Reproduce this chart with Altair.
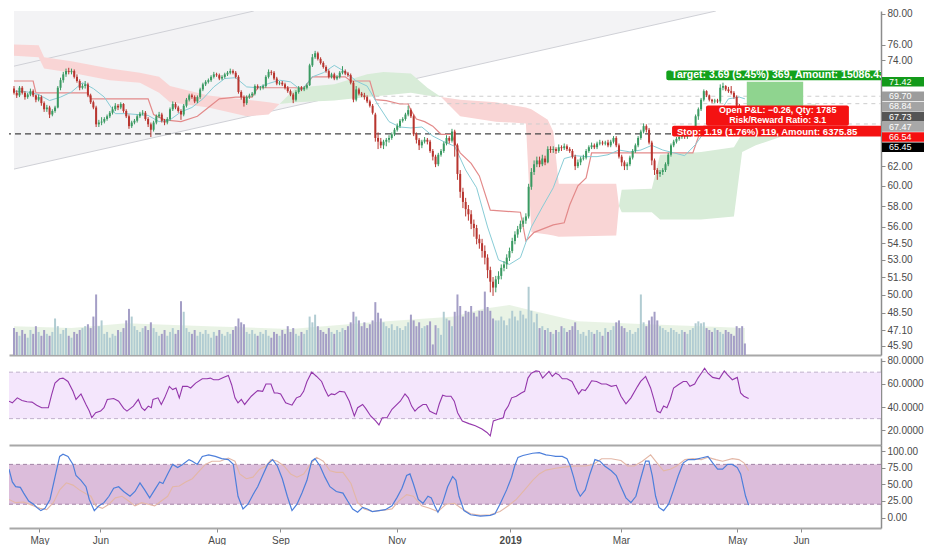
import math
import altair as alt
import pandas as pd

# ------------------------------------------------------------------ data
FIRST_INDEX = -11   # candle index of the first bar (index 0 = 1 May 2018)

opens = [
    70.6, 70.1, 69.8, 70.7, 70.1, 69.6, 69.9, 70.3, 69.8, 69.3, 69.6,
    68.9, 68.2, 68.4, 67.6, 68.0, 68.4, 70.7, 71.6, 72.3, 72.7,
    72.6, 72.7, 72.0, 71.5, 70.7, 70.9, 71.1, 69.8, 69.0, 68.4,
    66.5, 66.7, 66.8, 67.1, 67.4, 67.8, 68.2, 68.6, 68.4, 68.8,
    68.0, 67.4, 66.3, 66.7, 66.9, 67.4, 67.7, 67.8, 67.1, 66.5,
    65.9, 66.7, 67.4, 67.6, 66.9, 66.7, 67.1, 68.2, 68.8, 68.4,
    68.0, 67.6, 68.6, 69.3, 69.8, 69.6, 69.1, 69.6, 70.5, 71.1,
    71.4, 71.6, 72.0, 72.3, 72.2, 71.8, 72.0, 72.3, 72.5, 72.7,
    72.5, 72.0, 70.2, 69.6, 68.9, 69.6, 69.8, 70.0, 70.9, 70.7,
    70.7, 70.9, 72.0, 72.6, 72.5, 71.8, 71.2, 71.3, 71.1, 70.7,
    70.3, 69.9, 69.3, 70.2, 70.7, 70.5, 70.7, 71.0, 73.4, 74.4,
    74.9, 74.2, 73.7, 73.2, 72.7, 72.0, 72.3, 71.8, 72.0, 72.5,
    72.7, 72.4, 72.2, 71.3, 69.3, 70.5, 70.0, 69.8, 69.6, 69.1,
    68.6, 67.6, 65.0, 64.6, 64.2, 64.6, 64.8, 65.0, 65.4, 65.9,
    66.3, 66.9, 67.1, 67.6, 68.1, 67.4, 65.4, 64.8, 64.2, 64.6,
    64.8, 64.6, 63.6, 63.0, 62.2, 63.2, 63.6, 64.4, 65.0, 64.7,
    65.7, 64.2, 61.2, 59.4, 58.4, 57.7, 57.2, 56.3, 55.9, 54.9,
    54.5, 53.8, 53.2, 52.1, 51.1, 50.6, 51.3, 51.6, 52.3, 52.6,
    53.2, 53.8, 54.7, 55.3, 55.8, 56.3, 56.6, 57.0, 59.9, 61.4,
    62.2, 62.6, 62.2, 62.8, 62.4, 63.8, 63.7, 63.8, 63.6, 64.0,
    63.9, 64.1, 63.8, 63.6, 63.0, 62.0, 62.4, 62.8, 62.9, 63.6,
    64.0, 64.2, 64.0, 64.4, 64.5, 64.4, 64.5, 64.2, 64.6, 65.0,
    64.2, 63.0, 62.4, 62.0, 62.2, 62.9, 63.6, 64.2, 65.0, 65.7,
    66.3, 65.9, 64.5, 62.6, 61.6, 61.2, 61.4, 61.6, 62.2, 63.2,
    64.2, 64.6, 64.9, 65.1, 65.2, 65.1, 65.3, 65.4, 65.8, 67.4,
    68.2, 69.3, 70.3, 69.8, 69.3, 69.1, 69.2, 69.1, 70.7, 70.9,
    70.5, 70.3, 70.1, 69.6, 68.6, 68.3, 67.9,
]
highs = [
    70.9, 70.4, 70.9, 70.9, 70.3, 70.1, 70.6, 70.5, 69.9, 69.9, 69.8,
    69.1, 68.7, 68.6, 68.2, 68.6, 70.9, 71.9, 72.6, 73.0, 73.1,
    73.0, 72.9, 72.3, 71.7, 71.2, 71.5, 71.3, 70.0, 69.2, 68.6,
    67.0, 67.3, 67.3, 67.6, 68.0, 68.5, 68.9, 68.8, 69.0, 68.9,
    68.2, 67.6, 66.9, 67.1, 67.6, 67.9, 68.1, 68.0, 67.3, 66.7,
    66.9, 67.6, 67.9, 67.8, 67.1, 67.3, 68.4, 69.1, 69.0, 68.6,
    68.2, 68.8, 69.5, 70.0, 70.0, 69.8, 69.8, 70.7, 71.3, 71.6,
    71.8, 72.2, 72.6, 72.5, 72.4, 72.2, 72.5, 72.7, 73.0, 72.9,
    72.7, 72.2, 70.4, 69.8, 69.8, 70.0, 70.2, 71.1, 71.1, 70.9,
    71.1, 72.2, 72.9, 72.8, 72.7, 72.0, 71.5, 71.5, 71.3, 70.9,
    70.5, 70.1, 70.4, 70.9, 70.9, 70.9, 71.2, 73.6, 74.8, 75.2,
    75.1, 74.4, 73.9, 73.4, 72.9, 72.5, 72.5, 72.2, 72.7, 73.3,
    72.9, 72.6, 72.4, 71.5, 70.9, 70.7, 70.2, 70.1, 69.8, 69.3,
    68.8, 67.8, 65.6, 65.0, 64.8, 65.0, 65.3, 65.6, 66.1, 66.6,
    67.1, 67.3, 67.8, 68.6, 68.3, 67.6, 65.6, 65.0, 64.8, 65.1,
    65.0, 64.8, 63.8, 63.2, 63.4, 63.8, 64.6, 65.3, 65.2, 66.0,
    65.9, 64.4, 61.6, 59.8, 58.8, 58.1, 57.6, 56.7, 56.2, 55.3,
    54.9, 54.3, 53.5, 52.4, 51.5, 51.6, 52.0, 52.6, 52.9, 53.5,
    54.1, 55.0, 55.6, 56.1, 56.6, 56.9, 57.3, 60.2, 61.8, 62.6,
    63.0, 63.0, 63.2, 63.1, 64.1, 64.1, 64.1, 64.0, 64.3, 64.2,
    64.4, 64.3, 64.0, 63.8, 63.2, 62.7, 63.0, 63.2, 63.8, 64.2,
    64.5, 64.4, 64.6, 64.8, 64.7, 64.7, 64.8, 64.8, 65.2, 65.2,
    64.4, 63.2, 62.6, 62.4, 63.1, 63.8, 64.4, 65.2, 65.9, 66.6,
    66.5, 66.1, 64.7, 62.8, 61.8, 61.6, 61.8, 62.4, 63.4, 64.4,
    64.8, 65.1, 65.3, 65.4, 65.4, 65.5, 65.6, 66.0, 67.6, 68.4,
    69.5, 70.5, 70.4, 69.9, 69.4, 69.4, 69.4, 71.1, 71.3, 71.0,
    70.8, 70.9, 70.3, 69.8, 68.8, 68.5, 68.1,
]
lows = [
    69.9, 69.5, 69.6, 69.9, 69.3, 69.4, 69.7, 69.6, 69.0, 69.1, 68.6,
    67.9, 67.9, 67.2, 67.4, 67.8, 68.3, 70.4, 71.3, 72.0, 72.3,
    72.3, 71.8, 71.3, 70.4, 70.5, 70.6, 69.6, 68.8, 68.2, 66.2,
    66.2, 66.4, 66.6, 66.9, 67.2, 67.6, 68.0, 68.1, 68.2, 67.8,
    67.2, 66.0, 66.1, 66.5, 66.7, 67.2, 67.5, 66.9, 66.2, 65.1,
    65.7, 66.5, 67.2, 66.7, 66.4, 66.5, 66.9, 68.0, 68.2, 67.8,
    67.0, 67.4, 68.4, 69.1, 69.4, 68.9, 68.9, 69.4, 70.3, 70.9,
    71.2, 71.4, 71.8, 72.0, 71.6, 71.6, 71.8, 72.1, 72.3, 72.3,
    71.8, 70.0, 69.3, 68.5, 68.7, 69.4, 69.6, 69.8, 70.5, 70.4,
    70.5, 70.7, 71.8, 72.2, 71.6, 71.0, 71.0, 70.9, 70.5, 70.1,
    69.7, 68.9, 69.1, 70.0, 70.3, 70.3, 70.5, 70.9, 73.2, 74.2,
    74.0, 73.5, 73.0, 72.5, 71.8, 71.8, 71.6, 71.6, 71.8, 72.3,
    72.2, 72.0, 71.1, 69.0, 69.1, 69.8, 69.6, 69.3, 68.9, 68.4,
    67.6, 64.6, 63.8, 63.9, 63.8, 64.1, 64.5, 64.8, 65.2, 65.7,
    66.1, 66.7, 66.9, 67.4, 67.2, 65.2, 64.4, 63.7, 63.9, 64.4,
    64.3, 63.4, 62.6, 61.9, 62.0, 63.0, 63.4, 64.2, 64.4, 64.5,
    63.0, 60.6, 58.8, 57.8, 57.0, 56.6, 55.8, 55.1, 54.4, 54.0,
    53.2, 52.6, 51.4, 50.2, 49.9, 50.2, 50.9, 51.3, 52.0, 52.2,
    52.9, 53.6, 54.4, 55.0, 55.5, 56.0, 56.3, 56.8, 59.6, 61.1,
    61.9, 61.9, 62.0, 62.1, 62.3, 63.4, 63.4, 63.3, 63.4, 63.6,
    63.7, 63.6, 63.4, 62.8, 61.6, 61.8, 62.1, 62.6, 62.7, 63.4,
    63.8, 63.8, 63.8, 64.2, 64.2, 64.2, 64.0, 64.0, 64.4, 64.0,
    62.8, 62.0, 61.6, 61.6, 62.0, 62.7, 63.4, 64.0, 64.8, 65.5,
    65.6, 64.3, 62.1, 61.1, 60.6, 60.9, 61.1, 61.4, 62.0, 63.0,
    64.0, 64.4, 64.7, 64.9, 64.9, 64.9, 65.1, 65.2, 65.6, 67.0,
    68.0, 69.1, 69.6, 69.1, 68.9, 68.9, 68.9, 68.9, 70.4, 70.3,
    70.1, 69.9, 69.4, 68.4, 68.0, 67.6, 67.5,
]
closes = [
    70.1, 69.8, 70.7, 70.1, 69.6, 69.9, 70.3, 69.8, 69.3, 69.6, 68.9,
    68.2, 68.4, 67.6, 68.0, 68.4, 70.7, 71.6, 72.3, 72.7, 72.6,
    72.7, 72.0, 71.5, 70.7, 70.9, 71.1, 69.8, 69.0, 68.4, 66.5,
    66.7, 66.8, 67.1, 67.4, 67.8, 68.2, 68.6, 68.4, 68.8, 68.0,
    67.4, 66.3, 66.7, 66.9, 67.4, 67.7, 67.8, 67.1, 66.5, 65.9,
    66.7, 67.4, 67.6, 66.9, 66.7, 67.1, 68.2, 68.8, 68.4, 68.0,
    67.6, 68.6, 69.3, 69.8, 69.6, 69.1, 69.6, 70.5, 71.1, 71.4,
    71.6, 72.0, 72.3, 72.2, 71.8, 72.0, 72.3, 72.5, 72.7, 72.5,
    72.0, 70.2, 69.6, 68.9, 69.6, 69.8, 70.0, 70.9, 70.7, 70.7,
    70.9, 72.0, 72.6, 72.5, 71.8, 71.2, 71.3, 71.1, 70.7, 70.3,
    69.9, 69.3, 70.2, 70.7, 70.5, 70.7, 71.0, 73.4, 74.4, 74.9,
    74.2, 73.7, 73.2, 72.7, 72.0, 72.3, 71.8, 72.0, 72.5, 72.7,
    72.4, 72.2, 71.3, 69.3, 70.5, 70.0, 69.8, 69.6, 69.1, 68.6,
    67.8, 65.0, 64.6, 64.2, 64.6, 64.8, 65.0, 65.4, 65.9, 66.3,
    66.9, 67.1, 67.6, 68.1, 67.4, 65.4, 64.8, 64.2, 64.6, 64.8,
    64.6, 63.6, 63.0, 62.2, 63.2, 63.6, 64.4, 65.0, 64.7, 65.7,
    64.2, 61.2, 59.4, 58.4, 57.7, 57.2, 56.3, 55.9, 54.9, 54.5,
    53.8, 53.2, 52.1, 51.1, 50.6, 51.3, 51.6, 52.3, 52.6, 53.2,
    53.8, 54.7, 55.3, 55.8, 56.3, 56.6, 57.0, 59.9, 61.4, 62.2,
    62.6, 62.2, 62.8, 62.4, 63.8, 63.7, 63.8, 63.6, 64.0, 63.9,
    64.1, 63.8, 63.6, 63.0, 62.0, 62.4, 62.8, 62.9, 63.6, 64.0,
    64.2, 64.0, 64.4, 64.5, 64.4, 64.5, 64.2, 64.6, 65.0, 64.2,
    63.0, 62.4, 62.0, 62.2, 62.9, 63.6, 64.2, 65.0, 65.7, 66.3,
    65.9, 64.5, 62.6, 61.6, 61.2, 61.4, 61.6, 62.2, 63.2, 64.2,
    64.6, 64.9, 65.1, 65.2, 65.1, 65.3, 65.4, 65.8, 67.4, 68.2,
    69.3, 70.3, 69.8, 69.3, 69.1, 69.2, 69.1, 70.7, 70.9, 70.5,
    70.3, 70.1, 69.6, 68.6, 68.3, 67.9, 67.73,
]
volume = [
    28, 24, 20, 26, 22, 18, 26, 22, 30, 24, 20,
    26, 22, 20, 24, 38, 30, 22, 26, 28, 20,
    18, 24, 22, 26, 28, 30, 32, 28, 40, 63,
    30, 36, 22, 24, 18, 22, 20, 26, 24, 28,
    36, 48, 40, 30, 26, 24, 28, 30, 26, 34,
    28, 24, 20, 22, 26, 20, 24, 28, 22, 26,
    56, 45, 28, 24, 22, 26, 20, 24, 22, 26,
    22, 18, 24, 20, 26, 22, 20, 24, 22, 26,
    30, 38, 34, 32, 24, 22, 26, 22, 20, 24,
    22, 26, 20, 18, 24, 22, 20, 26, 22, 30,
    24, 28, 22, 20, 24, 22, 26, 40, 34, 42,
    30, 26, 24, 22, 28, 24, 22, 26, 24, 28,
    26, 30, 34, 45, 40, 36, 30, 34, 28, 32,
    36, 55, 44, 38, 34, 30, 28, 32, 26, 30,
    28, 26, 30, 34, 42, 36, 30, 34, 28, 30,
    31, 35, 11, 31, 28, 21, 45, 38, 36, 30,
    45, 63, 51, 40, 46, 45, 51, 44, 40, 46,
    46, 66, 50, 46, 38, 36, 36, 40, 36, 31,
    38, 46, 40, 36, 46, 42, 38, 71, 46, 34,
    43, 28, 30, 26, 28, 24, 22, 26, 24, 30,
    28, 24, 26, 30, 34, 26, 22, 24, 20, 26,
    24, 22, 26, 24, 20, 28, 24, 26, 30, 34,
    36, 30, 28, 24, 26, 22, 24, 28, 63, 34,
    30, 36, 40, 45, 36, 30, 28, 26, 24, 28,
    26, 24, 22, 26, 24, 22, 26, 28, 33, 35,
    33, 34, 28, 26, 24, 28, 26, 24, 22, 26,
    24, 22, 20, 30, 28, 30, 12,
]
volume_ma = [(-11, 30), (10, 28), (30, 33), (60, 30), (90, 27), (120, 34), (150, 40),
             (160, 48), (170, 52), (180, 45), (195, 35), (220, 32), (240, 30), (256, 28)]

# Ichimoku cloud (index, span A, span B)
cloud_idx = [-11, -2, 0, 10, 24, 35, 42, 46, 60, 74, 82, 86, 92, 106, 118, 124, 134, 140,
             145, 152, 165, 176, 178, 184, 186, 188, 209, 210, 211, 222, 225, 240, 252, 255,
             260, 270, 282]
span_a = [74.6, 74.4, 73.0, 72.5, 71.6, 71.3, 70.1, 69.0, 68.4, 67.4, 67.6, 68.8, 70.7, 71.1,
          72.3, 72.6, 72.4, 70.7, 69.6, 67.4, 66.8, 66.6, 55.5, 55.3, 55.2, 55.1, 55.2, 58.0,
          59.6, 59.7, 63.2, 63.5, 64.0, 65.5, 67.4, 68.6, 68.8]
span_b = [76.0, 75.9, 74.4, 73.9, 73.0, 72.5, 72.0, 70.9, 69.8, 69.3, 69.0, 68.8, 69.0, 69.2,
          69.6, 69.8, 70.1, 69.8, 69.6, 69.3, 69.0, 68.4, 68.2, 67.0, 65.7, 60.2, 60.2, 58.0,
          57.4, 57.4, 56.7, 56.7, 57.0, 63.5, 64.2, 65.2, 68.4]

tenkan = [(-11, 70.3), (-6, 70.2), (-2, 69.9), (2, 69.2), (6, 69.6), (10, 70.2), (14, 71.3),
          (18, 70.6), (22, 69.6), (26, 67.7), (30, 67.7), (34, 67.6), (38, 67.5), (42, 66.8),
          (46, 67.0), (50, 67.9), (54, 68.4), (58, 69.4), (62, 70.8), (66, 71.8), (70, 71.9),
          (74, 70.8), (78, 70.7), (82, 71.2), (86, 71.6), (90, 71.4), (94, 70.4), (98, 72.0),
          (102, 72.5), (106, 73.4), (110, 72.6), (114, 71.5), (118, 70.9), (122, 68.7),
          (126, 66.8), (130, 66.2), (134, 66.1), (138, 66.2), (142, 65.2), (146, 64.6),
          (150, 64.1), (154, 61.6), (158, 59.8), (162, 56.0), (166, 53.0), (170, 52.6),
          (174, 53.2), (178, 56.0), (182, 57.9), (186, 59.8), (190, 62.8), (194, 63.1),
          (198, 63.0), (202, 63.0), (206, 63.2), (210, 63.7), (214, 63.5), (218, 63.7),
          (222, 64.2), (226, 63.7), (230, 63.4), (234, 63.1), (238, 64.3), (242, 66.0),
          (246, 67.5), (250, 69.4), (254, 69.6), (256, 69.4)]
kijun = [(-11, 71.5), (-4, 71.5), (-3, 70.1), (16, 70.1), (17, 69.4), (38, 69.4), (40, 67.6),
         (44, 67.0), (50, 66.8), (56, 67.4), (60, 68.4), (64, 69.4), (70, 69.6), (76, 69.6),
         (78, 70.7), (95, 70.7), (98, 72.0), (110, 72.0), (112, 71.5), (119, 71.5), (121, 69.3),
         (125, 69.2), (130, 68.8), (133, 68.8), (134, 68.1), (136, 67.1), (139, 66.8),
         (142, 66.3), (145, 65.4), (149, 65.4), (150, 64.5), (152, 63.4), (156, 62.3),
         (159, 61.0), (163, 57.6), (174, 57.4), (176, 54.7), (179, 55.5), (186, 56.2),
         (190, 56.4), (192, 58.1), (195, 60.0), (198, 60.8), (200, 63.4), (237, 63.4),
         (239, 65.1), (241, 66.3), (256, 66.3)]

# trend channel (index, price) end points
channel_upper = [(-11, 73.3), (76.6, 80.39)]
channel_lower = [(-11, 61.7), (245.4, 80.39)]

rsi = [(-11.0, 45), (-9.8, 43.6), (-8.0, 47.9), (-6.3, 45.6), (-4.5, 44.5), (-2.7, 44.2),
       (-1.0, 41.6), (0.8, 39.4), (3.2, 39.4), (4.4, 50.7), (5.6, 60.6), (7.3, 64.3),
       (8.5, 64.9), (10.3, 62), (12.1, 53.5), (13.2, 46.5), (15.0, 51.3), (16.8, 42.2),
       (18.0, 36.5), (18.9, 30.8), (20.3, 35.1), (22.1, 36.5), (23.3, 39.4), (24.5, 46.5),
       (26.8, 47.3), (28.6, 45), (30.4, 38.8), (31.6, 36.5), (33.9, 40.8), (35.7, 46.5),
       (36.9, 39.4), (38.0, 37.1), (39.3, 40.8), (40.4, 39.4), (41.0, 46.5), (42.8, 47.9),
       (44.0, 42.2), (45.2, 47.9), (46.9, 57.8), (48.1, 55), (49.3, 56.4), (50.5, 47.9),
       (51.7, 57.8), (53.4, 57.8), (54.6, 56.4), (56.4, 60.6), (58.8, 64.3), (60.5, 64.3),
       (61.7, 64.9), (62.9, 63.5), (64.7, 63.5), (66.4, 65.5), (68.2, 67.2), (69.4, 59.2),
       (70.6, 47.9), (71.7, 43.6), (72.9, 46.5), (74.1, 42.2), (76.5, 49.3), (78.8, 54.1),
       (80.6, 53.5), (81.8, 59.8), (83.6, 59.8), (84.8, 52.1), (85.9, 52.1), (87.1, 51.3),
       (88.9, 43.6), (91.2, 41.6), (92.8, 47.9), (94.2, 49.3), (95.4, 53.5), (96.6, 62),
       (98.3, 70), (100.1, 66.3), (101.9, 62), (103.1, 55), (104.3, 49.3), (105.4, 51.3),
       (106.6, 50.7), (108.4, 53.5), (110.2, 53), (111.9, 45), (113.7, 32.3), (114.9, 39.4),
       (116.7, 42.2), (117.8, 38.8), (119.6, 32.3), (121.4, 28), (122.6, 24.6), (123.8, 30.8),
       (125.5, 30.8), (127.3, 38), (130.3, 45), (132.0, 51.3), (133.2, 47.9), (134.4, 40.8),
       (135.6, 36.5), (136.8, 39.4), (138.5, 42.2), (139.7, 42.2), (140.9, 36.5),
       (142.1, 35.1), (143.3, 33.7), (144.4, 42.8), (145.6, 50.1), (146.8, 49.3),
       (148.6, 49.3), (149.8, 45), (151.0, 35.1), (152.7, 28), (155.1, 25.7), (157.4, 23.8),
       (159.8, 21), (161.6, 18.1), (162.8, 15.2), (163.9, 28), (165.7, 29.5), (167.5, 30.8),
       (168.1, 36.5), (169.3, 40.8), (170.5, 47.9), (172.2, 49.3), (174.0, 52.1),
       (175.2, 53.5), (176.4, 64.9), (177.6, 69.1), (179.3, 71.1), (180.5, 70.6),
       (181.7, 64.9), (183.4, 69.1), (184.0, 70.6), (185.2, 66.3), (186.4, 69.1),
       (187.6, 67.7), (188.8, 64.3), (190.5, 64.3), (192.3, 62), (193.5, 56.4), (194.7, 51.3),
       (195.9, 55), (197.1, 54.1), (198.2, 57.8), (199.4, 62.6), (201.2, 62), (203.0, 59.8),
       (204.7, 59.8), (206.5, 57.8), (208.3, 58.7), (210.0, 49.3), (211.8, 42.8),
       (213.6, 47.9), (216.0, 57.8), (217.1, 62), (218.9, 66.3), (220.7, 56.4), (221.9, 46.5),
       (223.0, 36.5), (224.2, 35.1), (225.4, 40.8), (226.6, 39.4), (227.8, 46.5),
       (229.0, 56.4), (230.7, 59.2), (232.5, 62), (233.7, 62), (234.9, 57.8), (236.6, 59.8),
       (237.8, 64.9), (239.0, 69.1), (240.2, 73.4), (241.4, 69.1), (243.1, 65.5),
       (245.5, 64.3), (247.3, 71.1), (248.5, 67.7), (250.2, 63.5), (252.0, 65.5),
       (253.2, 52.1), (254.4, 49.3), (256.1, 47.3)]

stoch_k = [(-11, 72.8), (-9.8, 53.6), (-8.6, 46.4), (-6.9, 45.4), (-5.7, 36.8), (-3.9, 24.8),
           (-2.1, 20), (-1.0, 15.2), (0.5, 10.4), (2.0, 13.8), (3.8, 27.2), (5.6, 60.8),
           (7.3, 92), (8.5, 95.4), (10.3, 92), (12.1, 80), (13.2, 63.2), (15.0, 56), (16.8, 46.4),
           (18.0, 27.2), (19.8, 10.4), (21.5, 17.6), (23.3, 22.4), (25.1, 32), (26.8, 44),
           (28.6, 46.4), (30.4, 39.2), (32.7, 32), (34.5, 39.2), (36.3, 52.2), (38.0, 41.6),
           (39.8, 29.6), (41.6, 41.6), (43.4, 53.6), (44.6, 51.2), (46.3, 65.6), (48.1, 80),
           (49.9, 75.2), (51.7, 80), (54.0, 87.2), (55.2, 84.8), (57.0, 80), (58.8, 92),
           (61.1, 94.4), (63.5, 92), (65.8, 88.6), (68.2, 87.2), (70.0, 80), (71.7, 32),
           (73.5, 12.8), (75.3, 20), (77.1, 34.4), (78.8, 46.4), (80.6, 63.2), (82.4, 80),
           (84.2, 87.2), (85.9, 77.6), (87.7, 58.4), (89.5, 32), (91.2, 10.4), (93.0, 20),
           (94.8, 36.8), (96.6, 56), (98.3, 84.8), (99.5, 88.6), (101.3, 77.6), (103.1, 60.8),
           (104.9, 46.4), (107.2, 39.2), (109.6, 36.8), (111.3, 24.8), (113.1, 12.8), (114.9, 8),
           (116.7, 15.2), (118.4, 12.8), (120.2, 9), (122.6, 10.4), (124.9, 11.8), (127.3, 17.6),
           (129.1, 30), (130.9, 44), (132.6, 63.2), (133.8, 65.6), (135.0, 51.2), (136.8, 27.2),
           (138.5, 21.4), (140.3, 32), (141.5, 29.6), (142.7, 17.6), (143.9, 8), (145.6, 22.4),
           (147.4, 46.4), (149.2, 61.8), (150.4, 56), (151.5, 32), (153.3, 10.4), (155.7, 4.2),
           (159.2, 2.2), (162.8, 3.2), (164.5, 5.6), (166.3, 20), (168.7, 41.6), (170.5, 60.8),
           (171.6, 77.6), (172.8, 90.6), (174.6, 93.4), (178.1, 96.8), (180.5, 97.8),
           (182.9, 94.4), (184.6, 93.4), (186.4, 92), (188.8, 92), (190.5, 88.6), (191.7, 77.6),
           (192.9, 60.8), (194.1, 41.6), (195.3, 32), (197.1, 41.6), (198.8, 65.6),
           (200.6, 87.2), (202.4, 84.8), (204.1, 77.6), (206.5, 70.4), (208.3, 63.2),
           (210.0, 46.4), (211.8, 29.6), (213.6, 22.4), (215.4, 32), (217.1, 58.4),
           (218.9, 84.8), (220.1, 84.8), (221.3, 63.2), (222.5, 32), (223.7, 15.2),
           (225.4, 10.4), (227.2, 20), (229.0, 41.6), (230.7, 63.2), (232.5, 82.4),
           (234.3, 87.2), (236.6, 87.2), (239.0, 89.6), (241.4, 92), (243.1, 82.4),
           (244.9, 72.8), (246.7, 72.8), (248.5, 80), (250.2, 80), (252.0, 75.2),
           (253.2, 65.6), (255.0, 32), (256.1, 18.6)]
stoch_d = [(-11, 27.2), (-8.6, 22.4), (-5.7, 23.4), (-2.7, 18.6), (0.2, 13.8), (2.6, 11.8),
           (5.0, 22.4), (7.3, 41.6), (9.7, 52.2), (12.1, 48.8), (14.4, 41.6), (16.8, 35.8),
           (18.6, 32), (20.3, 17.6), (22.7, 13.8), (25.1, 20), (27.4, 29.6), (29.8, 32),
           (32.2, 24.8), (34.5, 17.6), (36.9, 22.4), (39.3, 20), (41.6, 17.6), (44.0, 24.8),
           (46.3, 32), (48.1, 46.4), (50.5, 47.4), (52.8, 53.6), (55.2, 58.4), (57.6, 69.4),
           (59.9, 80), (62.3, 84.8), (65.2, 84.8), (68.2, 89.6), (70.6, 84.8), (72.3, 65.6),
           (74.7, 58.4), (77.1, 60.8), (79.5, 72.8), (81.8, 77.6), (83.6, 87.2), (85.9, 84.8),
           (88.3, 77.6), (90.7, 65.6), (93.0, 60.8), (95.4, 65.6), (97.8, 80), (100.1, 90.6),
           (102.5, 84.8), (104.9, 70.4), (107.2, 68), (109.6, 68), (112.5, 51.2), (114.9, 22.4),
           (117.3, 12.8), (120.2, 9), (122.6, 10.4), (125.5, 11.8), (127.3, 13), (129.7, 24.8),
           (132.6, 34.4), (135.0, 32), (138.0, 17.6), (140.9, 13.8), (143.9, 9), (146.8, 20),
           (149.8, 21.4), (152.7, 12.8), (155.7, 5.6), (159.2, 3.2), (162.8, 4.2), (166.3, 9),
           (169.3, 17.6), (172.2, 27.2), (175.2, 41.6), (178.1, 56), (180.5, 65.6),
           (182.9, 71.4), (186.4, 74.2), (190.0, 76.2), (193.5, 77.6), (197.1, 77.6),
           (200.0, 80), (203.0, 88.6), (206.5, 88.6), (210.0, 85.8), (212.4, 77.6),
           (214.8, 77.6), (217.7, 84.8), (220.7, 94.4), (223.0, 82.4), (225.4, 70.4),
           (227.8, 72.8), (230.1, 77.6), (233.1, 87.2), (236.0, 88.6), (239.0, 87.2),
           (241.4, 90.6), (244.3, 87.2), (246.7, 84.8), (250.2, 88.6), (252.6, 87.2),
           (254.4, 82.4), (256.1, 70.4)]

price_ticks = [80, 76, 74, 62, 60, 58, 56, 54.5, 53, 51.5, 50, 48.5, 47.1, 45.9]
scale_labels = [71.42, 69.70, 68.84, 67.73, 67.47, 66.54, 65.45]
scale_label_colors = ["#139a1a", "#9c9c9c", "#a4a4a4", "#555555", "#a8a8a8", "#f50f0f", "#000000"]
support_level = 65.45
light_levels = [69.70, 68.84, 66.54]
light_level_start = [121, 121, 147.5]

entry_price, target_price, stop_price = 67.73, 71.42, 66.54
target_text = "Target: 3.69 (5.45%) 369, Amount: 15086.43"
pnl_text = ["Open P&L: \u22120.26, Qty: 1785", "Risk/Reward Ratio: 3.1"]
stop_text = "Stop: 1.19 (1.76%) 119, Amount: 6375.85"

month_idx = [0, 22, 64, 87, 129, 170, 210, 252, 275]
month_lbl = ["May", "Jun", "Aug", "Sep", "Nov", "2019", "Mar", "May", "Jun"]
rsi_band = [30, 70]
stoch_band = [20, 80]

# ------------------------------------------------------------------ layout / style
W = 872
H_MAIN, H_RSI, H_STO = 344, 87, 83
XDOM = [-11, 303.9]
YDOM = [45.2, 80.39]
PPL = H_MAIN / math.log(YDOM[1] / YDOM[0])   # pixels per log unit
LABEL_H = 10.2                               # height of a coloured price label

UP, DN = "#3a9a62", "#b8352f"
VUP, VDN = "#b1ccd2", "#a49ec6"
CLOUD_G, CLOUD_R = "#d8ecd8", "#f9d5d5"
FONT = "Liberation Sans"

xscale = alt.Scale(domain=XDOM, nice=False, zero=False)
sep_axis = alt.Axis(labels=False, ticks=False, grid=False, title=None,
                    domainColor="#a8a8a8", domainWidth=2)
price_axis = alt.Axis(orient="right", values=price_ticks, format=".2f", grid=False,
                      title=None, tickSize=4, labelPadding=2)


def X(field):
    return alt.X(f"{field}:Q", scale=xscale, axis=sep_axis)


def YP(field, axis=None):
    return alt.Y(f"{field}:Q", axis=axis,
                 scale=alt.Scale(type="log", domain=YDOM, nice=False, zero=False))


def px_of(p):
    return PPL * math.log(YDOM[1] / p)


def price_of(px):
    return YDOM[1] * math.exp(-px / PPL)


# ------------------------------------------------------------------ frames
n = min(len(opens), len(highs), len(lows), len(closes), len(volume))
cdf = pd.DataFrame({"i": [FIRST_INDEX + k for k in range(n)], "o": opens[:n],
                    "h": highs[:n], "l": lows[:n], "c": closes[:n], "v": volume[:n]})

vma = pd.DataFrame(volume_ma, columns=["i", "v"])
ten = pd.DataFrame(tenkan, columns=["i", "p"])
kij = pd.DataFrame(kijun, columns=["i", "p"])

ch_rows = []
for name, pts in (("up", channel_upper), ("lo", channel_lower)):
    for i, p in pts:
        ch_rows.append({"line": name, "i": i, "p": p, "top": YDOM[1]})
chdf = pd.DataFrame(ch_rows)
chlo = chdf[chdf.line == "lo"]

# cloud runs split at the crossing points
m = min(len(cloud_idx), len(span_a), len(span_b))


def sg(k):
    d = span_a[k] - span_b[k]
    return 0 if abs(d) < 1e-9 else (1 if d > 0 else -1)


runs, cur, sign = [], [0], sg(0)
for k in range(1, m):
    s = sg(k)
    cur.append(k)
    if s == 0:
        runs.append((cur, sign))
        cur, sign = [k], None
    elif sign is None or sign == 0:
        sign = s
runs.append((cur, sign))
crow = []
for sid, (ks, s) in enumerate(runs):
    for k in ks:
        crow.append({"seg": sid, "i": cloud_idx[k], "a": span_a[k], "b": span_b[k],
                     "kind": "g" if s == 1 else "r"})
cloud = pd.DataFrame(crow)

lvl_dark = pd.DataFrame({"p": [support_level]})
lvl_light = pd.DataFrame({"p": light_levels, "s": light_level_start})

box_df = pd.DataFrame({"x0": [256.7], "x1": [277.3], "y0": [entry_price], "y1": [target_price]})

# coloured price labels, stacked so that they do not overlap
lab_rows, last = [], None
for p, col in zip(scale_labels, scale_label_colors):
    pos = px_of(p)
    if last is not None and pos < last + LABEL_H:
        pos = last + LABEL_H
    last = pos
    lab_rows.append({"ctr": price_of(pos), "top": price_of(pos - LABEL_H / 2 + 0.3),
                     "bot": price_of(pos + LABEL_H / 2 - 0.3), "col": col, "lbl": f"{p:.2f}"})
labdf = pd.DataFrame(lab_rows)

# annotation boxes (target / P&L / stop)
ann_box = pd.DataFrame([
    {"x0": 227.3, "x1": 310, "y0": 71.6, "y1": 72.76, "col": "#13a11b"},
    {"x0": 241.8, "x1": 294.0, "y0": 66.35, "y1": 68.62, "col": "#f41212"},
    {"x0": 229.4, "x1": 310, "y0": 65.15, "y1": 66.35, "col": "#f41212"},
])
ann_left = pd.DataFrame([{"i": 229.1, "p": 72.18, "t": target_text, "fs": 10.5},
                         {"i": 231.2, "p": 65.70, "t": stop_text, "fs": 9.5}])
ann_mid = pd.DataFrame([{"i": 268.0, "p": 68.10, "t": pnl_text[0]},
                        {"i": 268.0, "p": 66.95, "t": pnl_text[1]}])

# ------------------------------------------------------------------ main panel
base_main = [
    alt.Chart(chlo).mark_area(color="#f3f3f5", clip=True).encode(
        x=X("i"), y=YP("p"), y2=alt.Y2("top")),
    alt.Chart(chdf).mark_line(color="#cfd0d6", strokeWidth=1, clip=True).encode(
        x=X("i"), y=YP("p"), detail="line:N"),
    alt.Chart(cloud).mark_area(clip=True).encode(
        x=X("i"), y=YP("a"), y2=alt.Y2("b"), detail="seg:N",
        color=alt.condition("datum.kind == 'g'", alt.value(CLOUD_G), alt.value(CLOUD_R))),
    alt.Chart(vma).mark_area(color="#e3f0df", opacity=0.8, clip=True).encode(
        x=X("i"), y=alt.Y("v:Q", scale=alt.Scale(domain=[0, 358]), axis=None)),
    alt.Chart(cdf).mark_bar(size=2, clip=True).encode(
        x=X("i"), y=alt.Y("v:Q", scale=alt.Scale(domain=[0, 358]), axis=None),
        color=alt.condition("datum.c >= datum.o", alt.value(VUP), alt.value(VDN))),
    alt.Chart(lvl_light).mark_rule(color="#cdcdcd", strokeDash=[4, 4], strokeWidth=1, clip=True).encode(
        x=X("s"), x2=alt.value(W), y=YP("p")),
    alt.Chart(lvl_dark).mark_rule(color="#444444", strokeDash=[6, 4], strokeWidth=1.2).encode(
        y=YP("p")),
    alt.Chart(kij).mark_line(color="#e38a8a", strokeWidth=1.2, clip=True).encode(
        x=X("i"), y=YP("p")),
    alt.Chart(ten).mark_line(color="#88ccd6", strokeWidth=1, clip=True).encode(
        x=X("i"), y=YP("p")),
    alt.Chart(cdf).mark_rule(strokeWidth=1, clip=True).encode(
        x=X("i"), y=YP("l", axis=price_axis), y2=alt.Y2("h"),
        color=alt.condition("datum.c >= datum.o", alt.value(UP), alt.value(DN))),
    alt.Chart(cdf).mark_bar(size=2, clip=True).encode(
        x=X("i"), y=YP("o"), y2=alt.Y2("c"),
        color=alt.condition("datum.c >= datum.o", alt.value(UP), alt.value(DN))),
    alt.Chart(box_df).mark_rect(color="#8fd48f", clip=True).encode(
        x=X("x0"), x2=alt.X2("x1"), y=YP("y0"), y2=alt.Y2("y1")),
    alt.Chart(ann_box).mark_rect(cornerRadius=2, clip=True).encode(
        x=X("x0"), x2=alt.X2("x1"), y=YP("y0"), y2=alt.Y2("y1"),
        color=alt.Color("col:N", scale=None)),
    alt.Chart(ann_left).mark_text(align="left", baseline="middle", font=FONT,
                                  fontWeight="bold", color="white", clip=True).encode(
        x=X("i"), y=YP("p"), text="t:N", size=alt.Size("fs:Q", scale=None)),
    alt.Chart(ann_mid).mark_text(align="center", baseline="middle", font=FONT, fontSize=9,
                                 fontWeight="bold", color="white", clip=True).encode(
        x=X("i"), y=YP("p"), text="t:N"),
    alt.Chart(labdf).mark_rect().encode(
        x=alt.value(W + 1), x2=alt.value(W + 43), y=YP("top"), y2=alt.Y2("bot"),
        color=alt.Color("col:N", scale=None)),
    alt.Chart(labdf).mark_text(align="left", baseline="middle", font=FONT, fontSize=9,
                               color="white").encode(
        x=alt.value(W + 8), y=YP("ctr"), text="lbl:N"),
]
main = alt.layer(*base_main).resolve_scale(y="independent").properties(width=W, height=H_MAIN)

# ------------------------------------------------------------------ RSI panel
rsi_df = pd.DataFrame(rsi, columns=["i", "v"])
rsi_scale = alt.Scale(domain=[7.3, 82.2], nice=False, zero=False)
rsi_axis = alt.Axis(orient="right", values=[20, 40, 60, 80], format=".4f", grid=False,
                    title=None, tickSize=4, labelPadding=2)
rb = pd.DataFrame({"lo": [rsi_band[0]], "hi": [rsi_band[1]]})
rl = pd.DataFrame({"v": rsi_band})
rsi_chart = alt.layer(
    alt.Chart(rb).mark_rect(color="#f4e6fc").encode(
        x=alt.value(0), x2=alt.value(W),
        y=alt.Y("lo:Q", scale=rsi_scale, axis=rsi_axis), y2=alt.Y2("hi")),
    alt.Chart(rl).mark_rule(color="#c0b0cc", strokeDash=[4, 3], strokeWidth=1).encode(
        y=alt.Y("v:Q", scale=rsi_scale, axis=rsi_axis)),
    alt.Chart(rsi_df).mark_line(color="#9437ab", strokeWidth=1.1, clip=True).encode(
        x=X("i"), y=alt.Y("v:Q", scale=rsi_scale, axis=rsi_axis)),
).properties(width=W, height=H_RSI)

# ------------------------------------------------------------------ Stochastic panel
k_df = pd.DataFrame(stoch_k, columns=["i", "v"])
d_df = pd.DataFrame(stoch_d, columns=["i", "v"])
sto_scale = alt.Scale(domain=[-15.8, 109.2], nice=False, zero=False)
sto_axis = alt.Axis(orient="right", values=[0, 25, 50, 75, 100], format=".2f", grid=False,
                    title=None, tickSize=4, labelPadding=2)
lbl_expr = "".join(f"datum.value == {v} ? '{t}' : " for v, t in zip(month_idx, month_lbl)) + "''"
month_axis = alt.Axis(values=month_idx, labelExpr=lbl_expr, grid=False, title=None,
                      tickSize=4, labelPadding=3, domainColor="#a8a8a8", domainWidth=2,
                      labelFontWeight=alt.condition("datum.value == 170", alt.value("bold"),
                                                    alt.value("normal")))
sb = pd.DataFrame({"lo": [stoch_band[0]], "hi": [stoch_band[1]]})
sl = pd.DataFrame({"v": stoch_band})


def Xm(f):
    return alt.X(f"{f}:Q", scale=xscale, axis=month_axis)


sto_chart = alt.layer(
    alt.Chart(sb).mark_rect(color="#dcbddb").encode(
        x=alt.value(0), x2=alt.value(W),
        y=alt.Y("lo:Q", scale=sto_scale, axis=sto_axis), y2=alt.Y2("hi")),
    alt.Chart(sl).mark_rule(color="#a283a6", strokeDash=[4, 3], strokeWidth=1).encode(
        y=alt.Y("v:Q", scale=sto_scale, axis=sto_axis)),
    alt.Chart(d_df).mark_line(color="#e3b7a6", strokeWidth=1.1, clip=True).encode(
        x=Xm("i"), y=alt.Y("v:Q", scale=sto_scale, axis=sto_axis)),
    alt.Chart(k_df).mark_line(color="#4d7fdb", strokeWidth=1.2, clip=True).encode(
        x=Xm("i"), y=alt.Y("v:Q", scale=sto_scale, axis=sto_axis)),
).properties(width=W, height=H_STO)

chart = alt.vconcat(main, rsi_chart, sto_chart, spacing=0).properties(
    padding=0, background="white"
).configure_view(stroke=None).configure_axis(
    labelFont=FONT, labelFontSize=10, labelColor="#4a4a4a",
    tickColor="#8c8c8c", domainColor="#8c8c8c", domainWidth=1.5
)

chart.save("out.html", embed_options={"renderer": "svg", "actions": False})
